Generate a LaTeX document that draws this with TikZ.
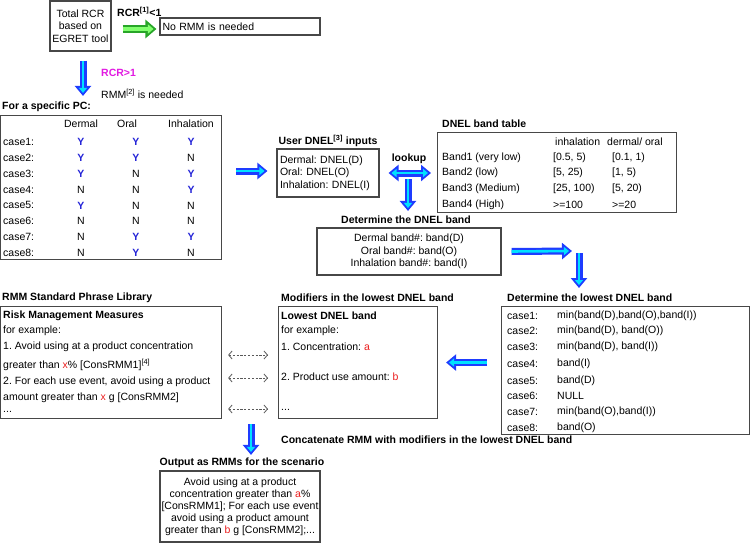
\documentclass[tikz,border=0pt]{standalone}
\usepackage{fontspec}
\setmainfont{Liberation Sans}
\usepackage{tikz}
\usetikzlibrary{arrows.meta}

\definecolor{arrblue}{RGB}{30,60,255}
\definecolor{arrcyan}{RGB}{0,225,255}
\definecolor{arrgreen}{RGB}{40,165,40}
\definecolor{arrlime}{RGB}{130,255,110}
\definecolor{ycol}{RGB}{35,35,215}
\definecolor{rcrmag}{RGB}{225,25,225}
\definecolor{redv}{RGB}{235,30,30}
\newcommand{\pcY}{\textcolor{ycol}{\textbf{Y}}}

\begin{document}
\frenchspacing
\fontsize{10.5}{12.5}\selectfont
\begin{tikzpicture}[x=1pt, y=-1pt]
    \tikzset{box/.style={draw=black!72, line width=1.1pt, inner sep=0pt},
        txt/.style={anchor=west, inner sep=0pt},
        ttl/.style={anchor=west, inner sep=0pt, font=\bfseries},
        ctr/.style={inner sep=0pt},
        fatarrow/.style={draw=arrblue, line width=7pt, -{Triangle[length=10pt,width=16pt]},
            postaction={draw=arrcyan, line width=2.6pt, -{Triangle[length=5pt,width=8pt]}, shorten >=3pt}},
        fatboth/.style={draw=arrblue, line width=7pt, {Triangle[length=10pt,width=16pt]}-{Triangle[length=10pt,width=16pt]},
            postaction={draw=arrcyan, line width=2.6pt, {Triangle[length=5pt,width=8pt]}-{Triangle[length=5pt,width=8pt]}, shorten >=3pt, shorten <=3pt}},
        greenarrow/.style={draw=arrgreen, line width=8pt, -{Triangle[length=11pt,width=18pt]},
            postaction={draw=arrlime, line width=3.4pt, -{Triangle[length=5.5pt,width=9pt]}, shorten >=3pt}},
        linkarrow/.style={draw=black!65, line width=0.8pt, dash pattern=on 2.2pt off 1.6pt,
            {Straight Barb[length=3.5pt,width=8pt]}-{Straight Barb[length=3.5pt,width=8pt]}}}
    \useasboundingbox (0,0) rectangle (750,543);

    \node[box, minimum width=61pt, minimum height=50pt, align=center] (rcr) at (80.5,26) {Total RCR\\based on\\EGRET tool};
    \node[ttl] (rcrlt) at (117,12) {RCR\textsuperscript{[1]}<1};
    \node[box, minimum width=160pt, minimum height=17pt, text width=155pt, align=left] (norm) at (240,26.5) {No RMM is needed};
    \node[ttl, text=rcrmag] (rcrgt) at (101,73) {RCR>1};
    \node[txt] (need) at (101,94) {RMM\textsuperscript{[2]} is needed};

    \node[ttl] (pcttl) at (2,107) {For a specific PC:};
    \node[box, minimum width=221pt, minimum height=144pt, anchor=north west] (pc) at (0,115) {};
    \node[ctr] (hd) at (81,124) {Dermal};
    \node[ctr] (ho) at (127,124) {Oral};
    \node[ctr] (hi) at (191,124) {Inhalation};
    \foreach \i/\cd/\co/\ch in {1/\pcY/\pcY/\pcY, 2/\pcY/\pcY/N, 3/\pcY/N/\pcY, 4/N/N/\pcY,
        5/\pcY/N/N, 6/N/N/N, 7/N/\pcY/\pcY, 8/N/\pcY/N}{
        \pgfmathsetmacro\yy{142+(\i-1)*15.85}
        \node[txt] (pc\i) at (3,\yy) {case\i:};
        \node[ctr] (pcd\i) at (81,\yy) {\cd};
        \node[ctr] (pco\i) at (136,\yy) {\co};
        \node[ctr] (pch\i) at (191,\yy) {\ch};
    }

    \node[font=\bfseries, inner sep=0pt] (dnelttl) at (328,141) {User DNEL\textsuperscript{[3]} inputs};
    \node[box, minimum width=102pt, minimum height=48pt, text width=96pt, align=left] (dnel) at (328,173) {Dermal: DNEL(D)\\Oral: DNEL(O)\\Inhalation: DNEL(I)};
    \node[font=\bfseries, inner sep=0pt] (lkttl) at (409,159) {lookup};

    \node[ttl] (bandttl) at (442,124) {DNEL band table};
    \node[box, minimum width=239pt, minimum height=80pt, anchor=north west] (band) at (437,132) {};
    \node[txt] (bhi) at (555,142) {inhalation};
    \node[txt] (bhd) at (607,142) {dermal/ oral};
    \foreach \i/\bn/\ci/\cd/\yy in {1/{Band1 (very low)}/{[0.5, 5)}/{[0.1, 1)}/158,
        2/{Band2 (low)}/{[5, 25)}/{[1, 5)}/173, 3/{Band3 (Medium)}/{[25, 100)}/{[5, 20)}/189,
        4/{Band4 (High)}/{>=100}/{>=20}/205}{
        \node[txt] (b\i) at (442,\yy) {\bn};
        \node[txt] (bi\i) at (553,\yy) {\ci};
        \node[txt] (bd\i) at (612,\yy) {\cd};
    }

    \node[font=\bfseries, inner sep=0pt] (dbttl) at (406,220) {Determine the DNEL band};
    \node[box, minimum width=184pt, minimum height=47pt, align=center] (dband) at (409,251.5) {Dermal band\#: band(D)\\Oral band\#: band(O)\\Inhalation band\#: band(I)};
    \coordinate (bend) at (579,251);

    \node[ttl] (lowttl) at (507,298) {Determine the lowest DNEL band};
    \node[box, minimum width=248pt, minimum height=128pt, anchor=north west] (low) at (501,306) {};
    \foreach \i/\cv/\yy in {1/{min(band(D),band(O),band(I))}/316, 2/{min(band(D), band(O))}/331,
        3/{min(band(D), band(I))}/347, 4/{band(I)}/364, 5/{band(D)}/381, 6/{NULL}/396,
        7/{min(band(O),band(I))}/412, 8/{band(O)}/428}{
        \node[txt] (lc\i) at (507,\yy) {case\i:};
        \node[txt] (lv\i) at (557,\yy) {\cv};
    }

    \node[ttl] (modttl) at (281,298) {Modifiers in the lowest DNEL band};
    \node[box, minimum width=159pt, minimum height=112pt, anchor=north west] (mod) at (278,306) {};
    \node[ttl] (mod1) at (281,316) {Lowest DNEL band};
    \node[txt] (mod2) at (281,331) {for example:};
    \node[txt] (mod3) at (281,347) {1. Concentration: \textcolor{redv}{a}};
    \node[txt] (mod4) at (281,377) {2. Product use amount: \textcolor{redv}{b}};
    \node[txt] (mod5) at (281,410) {...};

    \node[ttl] (libttl) at (2,298) {RMM Standard Phrase Library};
    \node[box, minimum width=221pt, minimum height=112pt, anchor=north west] (lib) at (0,306) {};
    \node[ttl] (lib1) at (3,316) {Risk Management Measures};
    \node[txt] (lib2) at (3,331) {for example:};
    \node[txt] (lib3) at (3,347) {1. Avoid using at a product concentration};
    \node[txt] (lib4) at (3,365) {greater than \textcolor{redv}{x}\% [ConsRMM1]\textsuperscript{[4]}};
    \node[txt] (lib5) at (3,382) {2. For each use event, avoid using a product};
    \node[txt] (lib6) at (3,398) {amount greater than \textcolor{redv}{x} g [ConsRMM2]};
    \node[txt] (lib7) at (3,412) {...};
    \coordinate (lk1) at (0,355);
    \coordinate (lk2) at (0,378);
    \coordinate (lk3) at (0,409);

    \node[ttl] (cat) at (281,440) {Concatenate RMM with modifiers in the lowest DNEL band};
    \node[font=\bfseries, inner sep=0pt] (outttl) at (242,463) {Output as RMMs for the scenario};
    \node[box, minimum width=160pt, minimum height=71pt, align=center, font=\fontsize{10.5}{12}\selectfont] (out) at (240,506.5) {Avoid using at a product\\concentration greater than \textcolor{redv}{a}\%\\{}[ConsRMM1]; For each use event\\avoid using a product amount\\greater than \textcolor{redv}{b} g [ConsRMM2];...};

    \draw[greenarrow] ([xshift=11pt,yshift=-3pt]rcr.east) -- ([xshift=-3pt,yshift=-3pt]rcr.east -| norm.west);
    \draw[fatarrow] ([xshift=2.5pt,yshift=-9pt]rcr.south) -- ([xshift=2.5pt,yshift=6pt]rcr.south |- pcttl.north);
    \draw[fatarrow] ([xshift=14pt,yshift=2pt]pc.east |- dnel.west) -- ([xshift=-9pt,yshift=2pt]dnel.west);
    \draw[fatboth] ([xshift=9pt]dnel.east) -- ([xshift=-6pt]dnel.east -| band.west);
    \draw[fatarrow] ([xshift=-1pt,yshift=-15pt]lkttl.south) -- ([xshift=-1pt,yshift=5pt]lkttl.south |- dbttl.north);
    \draw[fatarrow] ([xshift=10pt]dband.east) -- ([xshift=-7pt]bend);
    \draw[fatarrow] ([yshift=-2pt]bend) -- ([yshift=18pt]bend |- low.north);
    \draw[fatarrow] ([xshift=-14pt]low.west |- mod.east) -- ([xshift=8pt]mod.east);
    \draw[linkarrow] ([xshift=6pt]lib.east |- lk1) -- ([xshift=-10pt]mod.west |- lk1);
    \draw[linkarrow] ([xshift=6pt]lib.east |- lk2) -- ([xshift=-10pt]mod.west |- lk2);
    \draw[linkarrow] ([xshift=6pt]lib.east |- lk3) -- ([xshift=-10pt]mod.west |- lk3);
    \draw[fatarrow] ([xshift=9pt,yshift=-5pt]outttl.north |- lib.south) -- ([xshift=9pt,yshift=3pt]outttl.north);
\end{tikzpicture}
\end{document}
